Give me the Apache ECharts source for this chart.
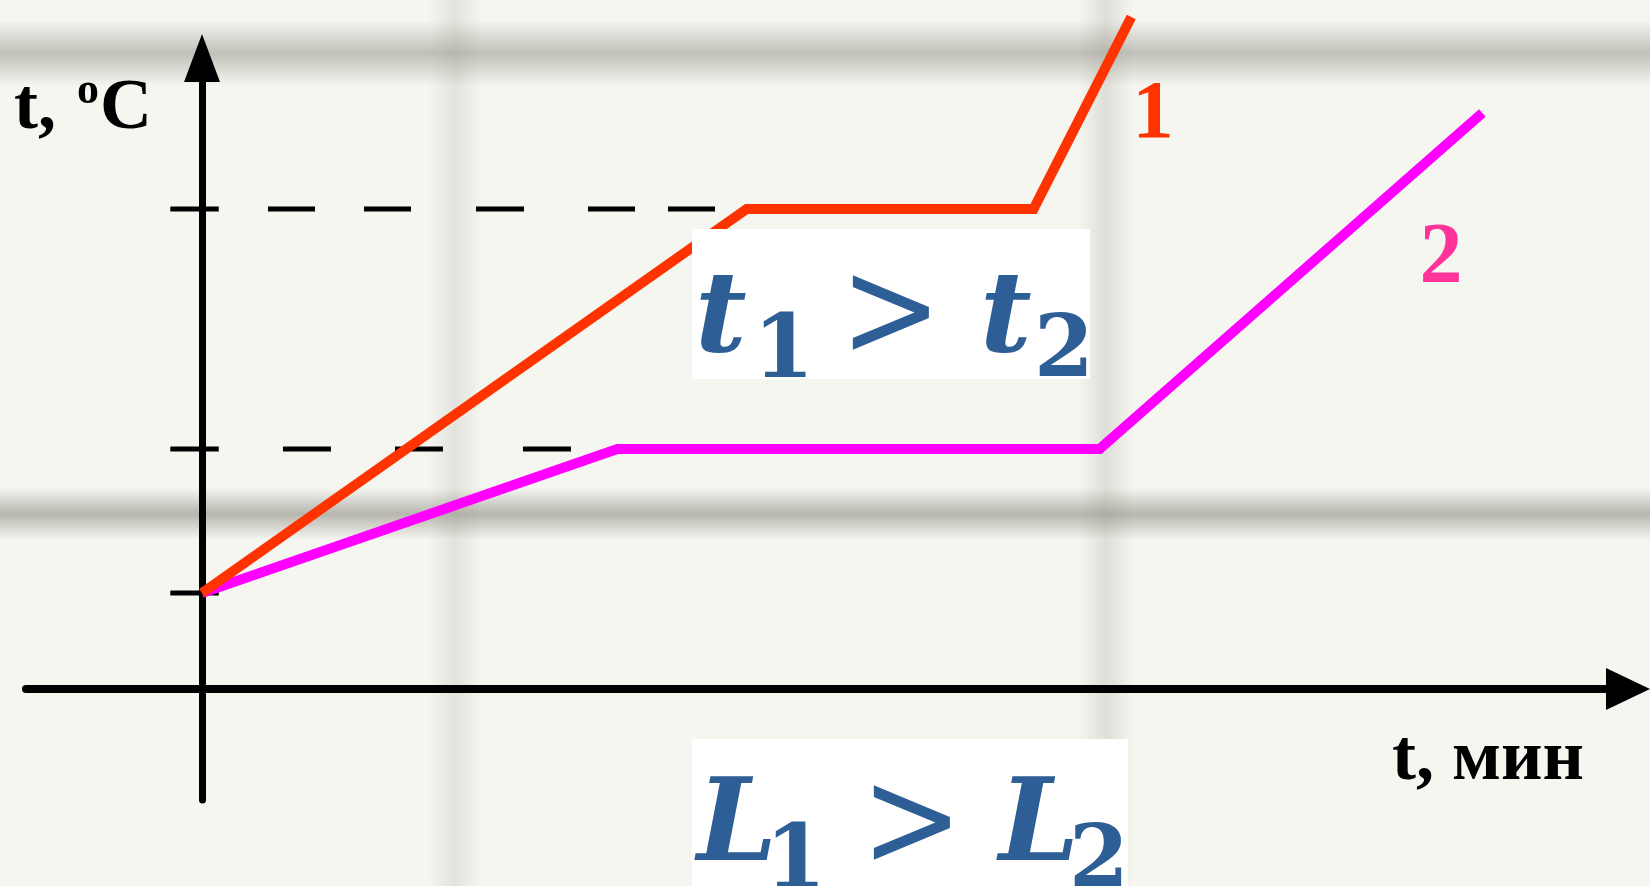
<!DOCTYPE html>
<html>
<head>
<meta charset="utf-8">
<title>Кривые нагрева</title>
<script src="https://cdn.jsdelivr.net/npm/echarts@6/dist/echarts.min.js"></script>
<style>
html, body { margin: 0; padding: 0; background: #f6f6f1; }
#chart { width: 1650px; height: 886px; }
</style>
</head>
<body>
<div id="chart"></div>
<script>
// кривая 1 (красная) и кривая 2 (розовая); время в условных единицах
const line1X = [0, 6.19, 9.45, 10.56];
const line1Y = [4, 20, 20, 28];
const line2X = [0, 4.72, 10.2, 14.55];
const line2Y = [4, 10, 10, 24];

// засечки на оси температуры
const tickValues = [4, 10, 20];

// пунктир от оси к площадкам
const guideValues = [20, 10];
const guideFrom = [0.75, 0.92];
const guideTo = [5.9, 4.2];

const curveNames = ['1', '2'];

function pairs(xs, ys) {
    return xs.map(function (x, i) { return [x, ys[i]]; });
}

var chart = echarts.init(document.getElementById('chart'), null, { renderer: 'canvas' });

// штрихи в оригинале нарисованы вручную, шаг неровный
var guideDash = [
    [47, 49, 47, 65, 48, 64, 47, 33, 47, 100],
    [48, 64, 48, 80, 48, 100]
];

var series = [];

guideValues.forEach(function (v, i) {
    series.push({
        type: 'line',
        data: [[guideFrom[i], v], [guideTo[i], v]],
        symbol: 'none',
        silent: true,
        lineStyle: { color: '#000', width: 5, type: guideDash[i], cap: 'butt' },
        z: 2
    });
});

tickValues.forEach(function (v) {
    series.push({
        type: 'line',
        data: [[-0.36, v], [0.19, v]],
        symbol: 'none',
        silent: true,
        lineStyle: { color: '#000', width: 5 },
        z: 2
    });
});

series.push({
    name: curveNames[1],
    type: 'line',
    data: pairs(line2X, line2Y),
    symbol: 'none',
    clip: false,
    lineStyle: { color: '#ff00ff', width: 10, join: 'miter', cap: 'butt' },
    z: 3
});
series.push({
    name: curveNames[0],
    type: 'line',
    data: pairs(line1X, line1Y),
    symbol: 'none',
    clip: false,
    lineStyle: { color: '#ff3300', width: 10, join: 'miter', cap: 'butt' },
    z: 4
});

// размытые полосы фона (фото листа)
function band(horizontal, pos, size, a) {
    var shape = horizontal
        ? { x: 0, y: pos, width: 1650, height: size }
        : { x: pos, y: 0, width: size, height: 886 };
    return {
        type: 'rect', z: -10, silent: true,
        shape: shape,
        style: {
            fill: new echarts.graphic.LinearGradient(0, 0, horizontal ? 0 : 1, horizontal ? 1 : 0, [
                { offset: 0, color: 'rgba(140,140,130,0)' },
                { offset: 0.5, color: 'rgba(140,140,130,' + a + ')' },
                { offset: 1, color: 'rgba(140,140,130,0)' }
            ])
        }
    };
}

var serif = 'Liberation Serif';
var math = 'DejaVu Serif';
var blue = '#2e5e96';

function txt(x, y, text, size, family, color, opts) {
    opts = opts || {};
    var el = {
        type: 'text', x: x, y: y, z: 60, silent: true,
        style: {
            text: text,
            fontFamily: family,
            fontSize: size,
            fontWeight: opts.weight || 'normal',
            fontStyle: opts.italic ? 'italic' : 'normal',
            fill: color,
            textAlign: opts.align || 'left',
            textVerticalAlign: 'middle'
        }
    };
    if (opts.scaleX) el.scaleX = opts.scaleX;
    return el;
}

var B = { weight: 'bold' };
var BI = { weight: 'bold', italic: true };

var option = {
    backgroundColor: '#f6f6f1',
    animation: false,
    grid: { left: 26, right: 22, top: 58, bottom: 86 },
    xAxis: {
        type: 'value',
        min: -2,
        max: 16.205,
        axisLine: {
            onZero: true,
            symbol: ['none', 'triangle'],
            symbolSize: [42, 44],
            lineStyle: { color: '#000', width: 8 }
        },
        axisTick: { show: false },
        axisLabel: { show: false },
        splitLine: { show: false }
    },
    yAxis: {
        type: 'value',
        min: -4.625,
        max: 26.29,
        axisLine: {
            show: true,
            onZero: true,
            symbol: ['none', 'triangle'],
            symbolSize: [36, 48],
            lineStyle: { color: '#000', width: 7 }
        },
        axisTick: { show: false },
        axisLabel: { show: false },
        splitLine: { show: false }
    },
    series: series,
    graphic: [
        band(true, 20, 66, 0.5),
        band(true, 488, 52, 0.6),
        band(false, 428, 54, 0.18),
        band(false, 1078, 56, 0.22),

        txt(14, 109, 't,', 72, serif, '#000', B),
        txt(77, 92, 'o', 44, serif, '#000', B),
        txt(100, 109, 'C', 72, serif, '#000', B),
        txt(1488, 760, 't, мин', 72, serif, '#000', { weight: 'bold', align: 'center' }),

        txt(1153, 116, curveNames[0], 83, serif, '#ff3300', { weight: 'bold', align: 'center' }),
        txt(1441, 260, curveNames[1], 86, serif, '#ff3399', { weight: 'bold', align: 'center' }),

        { type: 'rect', z: 50, silent: true, shape: { x: 692, y: 229, width: 398, height: 150 }, style: { fill: '#fff' } },
        txt(695, 322, 't', 112, math, blue, BI),
        txt(753, 354, '1', 88, math, blue, B),
        txt(840, 320, '>', 138, math, blue, { scaleX: 0.88 }),
        txt(980, 322, 't', 112, math, blue, BI),
        txt(1034, 354, '2', 86, math, blue, B),

        { type: 'rect', z: 50, silent: true, shape: { x: 692, y: 739, width: 436, height: 150 }, style: { fill: '#fff' } },
        txt(697, 830, 'L', 114, math, blue, BI),
        txt(765, 864, '1', 88, math, blue, B),
        txt(861, 830, '>', 138, math, blue, { scaleX: 0.88 }),
        txt(999, 830, 'L', 114, math, blue, BI),
        txt(1069, 864, '2', 86, math, blue, B)
    ]
};

chart.setOption(option);
</script>
</body>
</html>
